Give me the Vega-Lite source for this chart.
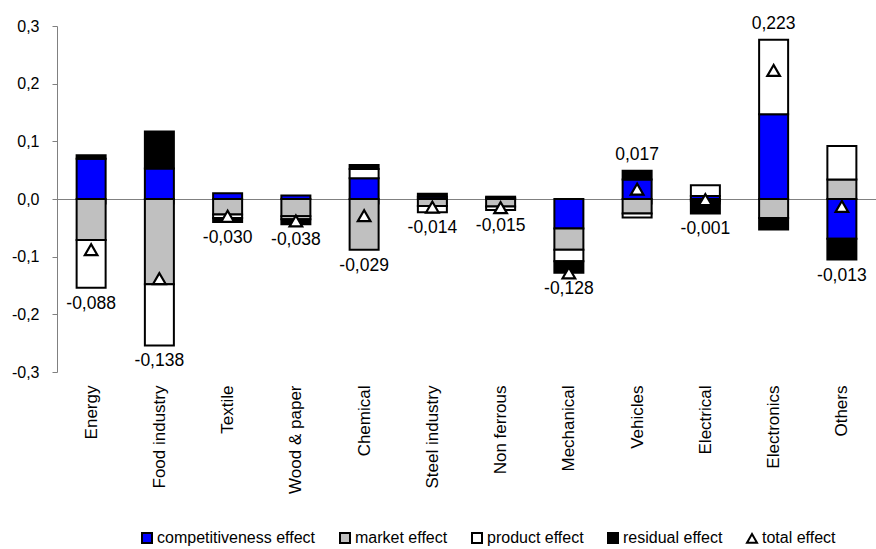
{
  "$schema": "https://vega.github.io/schema/vega-lite/v6.json",
  "width": 819,
  "height": 346,
  "autosize": {"type": "none"},
  "padding": {"left": 57, "top": 26, "right": 0, "bottom": 177},
  "background": "white",
  "datasets": {
    "effects": [
      {"sector": "Energy", "effect": "competitiveness effect", "value": 0.070},
      {"sector": "Energy", "effect": "market effect", "value": -0.071},
      {"sector": "Energy", "effect": "product effect", "value": -0.083},
      {"sector": "Energy", "effect": "residual effect", "value": 0.006},
      {"sector": "Food industry", "effect": "competitiveness effect", "value": 0.053},
      {"sector": "Food industry", "effect": "market effect", "value": -0.148},
      {"sector": "Food industry", "effect": "product effect", "value": -0.106},
      {"sector": "Food industry", "effect": "residual effect", "value": 0.064},
      {"sector": "Textile", "effect": "competitiveness effect", "value": 0.010},
      {"sector": "Textile", "effect": "market effect", "value": -0.027},
      {"sector": "Textile", "effect": "product effect", "value": -0.006},
      {"sector": "Textile", "effect": "residual effect", "value": -0.007},
      {"sector": "Wood & paper", "effect": "competitiveness effect", "value": 0.006},
      {"sector": "Wood & paper", "effect": "market effect", "value": -0.030},
      {"sector": "Wood & paper", "effect": "product effect", "value": -0.005},
      {"sector": "Wood & paper", "effect": "residual effect", "value": -0.009},
      {"sector": "Chemical", "effect": "competitiveness effect", "value": 0.036},
      {"sector": "Chemical", "effect": "market effect", "value": -0.088},
      {"sector": "Chemical", "effect": "product effect", "value": 0.016},
      {"sector": "Chemical", "effect": "residual effect", "value": 0.007},
      {"sector": "Steel industry", "effect": "competitiveness effect", "value": 0.004},
      {"sector": "Steel industry", "effect": "market effect", "value": -0.012},
      {"sector": "Steel industry", "effect": "product effect", "value": -0.011},
      {"sector": "Steel industry", "effect": "residual effect", "value": 0.005},
      {"sector": "Non ferrous", "effect": "competitiveness effect", "value": 0.002},
      {"sector": "Non ferrous", "effect": "market effect", "value": -0.013},
      {"sector": "Non ferrous", "effect": "product effect", "value": -0.006},
      {"sector": "Non ferrous", "effect": "residual effect", "value": 0.002},
      {"sector": "Mechanical", "effect": "competitiveness effect", "value": -0.051},
      {"sector": "Mechanical", "effect": "market effect", "value": -0.037},
      {"sector": "Mechanical", "effect": "product effect", "value": -0.020},
      {"sector": "Mechanical", "effect": "residual effect", "value": -0.020},
      {"sector": "Vehicles", "effect": "competitiveness effect", "value": 0.034},
      {"sector": "Vehicles", "effect": "market effect", "value": -0.025},
      {"sector": "Vehicles", "effect": "product effect", "value": -0.007},
      {"sector": "Vehicles", "effect": "residual effect", "value": 0.015},
      {"sector": "Electrical", "effect": "competitiveness effect", "value": 0.005},
      {"sector": "Electrical", "effect": "market effect", "value": -0.003},
      {"sector": "Electrical", "effect": "product effect", "value": 0.019},
      {"sector": "Electrical", "effect": "residual effect", "value": -0.022},
      {"sector": "Electronics", "effect": "competitiveness effect", "value": 0.147},
      {"sector": "Electronics", "effect": "market effect", "value": -0.033},
      {"sector": "Electronics", "effect": "product effect", "value": 0.129},
      {"sector": "Electronics", "effect": "residual effect", "value": -0.020},
      {"sector": "Others", "effect": "competitiveness effect", "value": -0.069},
      {"sector": "Others", "effect": "market effect", "value": 0.034},
      {"sector": "Others", "effect": "product effect", "value": 0.058},
      {"sector": "Others", "effect": "residual effect", "value": -0.036}
    ],
    "totals": [
      {"sector": "Energy", "effect": "total effect", "value": -0.088},
      {"sector": "Food industry", "effect": "total effect", "value": -0.138},
      {"sector": "Textile", "effect": "total effect", "value": -0.030},
      {"sector": "Wood & paper", "effect": "total effect", "value": -0.038},
      {"sector": "Chemical", "effect": "total effect", "value": -0.029},
      {"sector": "Steel industry", "effect": "total effect", "value": -0.014},
      {"sector": "Non ferrous", "effect": "total effect", "value": -0.015},
      {"sector": "Mechanical", "effect": "total effect", "value": -0.128},
      {"sector": "Vehicles", "effect": "total effect", "value": 0.017},
      {"sector": "Electrical", "effect": "total effect", "value": -0.001},
      {"sector": "Electronics", "effect": "total effect", "value": 0.223},
      {"sector": "Others", "effect": "total effect", "value": -0.013}
    ]
  },
  "encoding": {
    "x": {
      "field": "sector",
      "type": "nominal",
      "sort": null,
      "title": null,
      "scale": {"paddingInner": 0.575, "paddingOuter": 0.2875},
      "axis": {
        "orient": "bottom",
        "offset": -173,
        "domainColor": "#808080",
        "domainWidth": 1,
        "tickColor": "#808080",
        "tickSize": 5,
        "tickBand": "extent",
        "labelAngle": 270,
        "labelAlign": "right",
        "labelBaseline": "middle",
        "labelPadding": 181,
        "labelFontSize": 17,
        "labelFont": "Liberation Sans",
        "labelColor": "black"
      }
    }
  },
  "layer": [
    {
      "data": {"name": "effects"},
      "mark": {"type": "bar", "stroke": "black", "strokeWidth": 2},
      "encoding": {
        "y": {
          "field": "value",
          "type": "quantitative",
          "stack": "zero",
          "title": null,
          "scale": {"domain": [-0.3, 0.3], "nice": false},
          "axis": {
            "values": [-0.3, -0.2, -0.1, 0, 0.1, 0.2, 0.3],
            "format": ".1f",
            "grid": false,
            "domainColor": "#808080",
            "tickColor": "#808080",
            "tickSize": 5,
            "labelPadding": 13,
            "labelFontSize": 16,
            "labelFont": "Liberation Sans",
            "labelColor": "black"
          }
        },
        "color": {
          "field": "effect",
          "type": "nominal",
          "title": null,
          "scale": {
            "domain": ["competitiveness effect", "market effect", "product effect", "residual effect", "total effect"],
            "range": ["#0000ff", "#c0c0c0", "#ffffff", "#000000", "#ffffff"]
          },
          "legend": {
            "orient": "none",
            "legendX": 82,
            "legendY": 504,
            "direction": "horizontal",
            "encode": {
              "symbols": {
                "update": {
                  "stroke": {"value": "black"},
                  "strokeWidth": {"value": 2},
                  "opacity": {"value": 1}
                }
              }
            }
          }
        },
        "order": {"field": "effect", "sort": "ascending"}
      }
    },
    {
      "data": {"name": "totals"},
      "mark": {"type": "point", "filled": true, "stroke": "black", "strokeWidth": 2.2, "size": 160, "opacity": 1},
      "encoding": {
        "y": {"field": "value", "type": "quantitative"},
        "color": {"field": "effect", "type": "nominal"},
        "shape": {
          "field": "effect",
          "type": "nominal",
          "title": null,
          "scale": {
            "domain": ["competitiveness effect", "market effect", "product effect", "residual effect", "total effect"],
            "range": ["square", "square", "square", "square", "triangle-up"]
          }
        }
      }
    },
    {
      "data": {"name": "effects"},
      "transform": [
        {"filter": "datum.value < 0"},
        {"aggregate": [{"op": "sum", "field": "value", "as": "low"}], "groupby": ["sector"]},
        {"lookup": "sector", "from": {"data": {"name": "totals"}, "key": "sector", "fields": ["value"]}, "as": ["total"]},
        {"filter": "datum.total < 0"}
      ],
      "mark": {"type": "text", "baseline": "top", "dy": 7, "fontSize": 17.5, "font": "Liberation Sans", "color": "black"},
      "encoding": {
        "y": {"field": "low", "type": "quantitative"},
        "text": {"field": "total", "type": "quantitative", "format": ".3f"}
      }
    },
    {
      "data": {"name": "effects"},
      "transform": [
        {"filter": "datum.value > 0"},
        {"aggregate": [{"op": "sum", "field": "value", "as": "high"}], "groupby": ["sector"]},
        {"lookup": "sector", "from": {"data": {"name": "totals"}, "key": "sector", "fields": ["value"]}, "as": ["total"]},
        {"filter": "datum.total > 0"}
      ],
      "mark": {"type": "text", "baseline": "bottom", "dy": -7, "fontSize": 17.5, "font": "Liberation Sans", "color": "black"},
      "encoding": {
        "y": {"field": "high", "type": "quantitative"},
        "text": {"field": "total", "type": "quantitative", "format": ".3f"}
      }
    }
  ],
  "config": {
    "locale": {
      "number": {"decimal": ",", "thousands": ".", "grouping": [3], "currency": ["", ""], "minus": "-"}
    },
    "view": {"stroke": null},
    "legend": {
      "labelFontSize": 16,
      "labelFont": "Liberation Sans",
      "labelColor": "black",
      "symbolSize": 100,
      "symbolStrokeColor": "black",
      "symbolStrokeWidth": 2,
      "symbolOpacity": 1,
      "columnPadding": 20,
      "labelOffset": 2
    }
  }
}
